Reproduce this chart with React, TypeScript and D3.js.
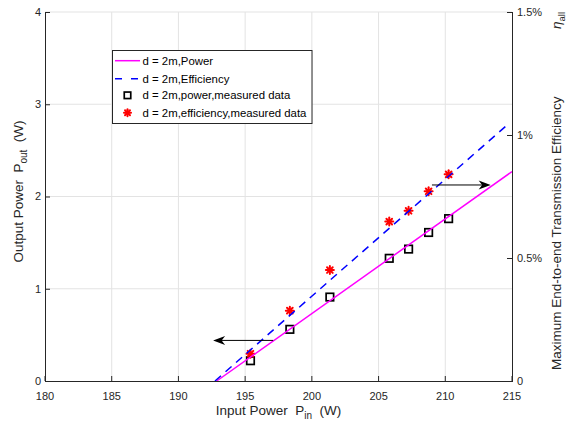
import React from "react";
import * as d3 from "d3";

// ---- data ----
const xTicks = [180, 185, 190, 195, 200, 205, 210, 215];
const yLeftTicks = [0, 1, 2, 3, 4];
const yRightTicks = [0, 0.5, 1, 1.5];
const yRightTickLabels = ["0", "0.5%", "1%", "1.5%"];

const pinMeasured = [195.4, 198.35, 201.35, 205.8, 207.25, 208.75, 210.25];
const powerMeasured = [0.22, 0.56, 0.91, 1.33, 1.43, 1.61, 1.76];
const effMeasured = [0.111, 0.286, 0.451, 0.648, 0.692, 0.771, 0.84]; // %

const powerLinePin = [192.87, 215];
const powerLineVal = [0, 2.27];
const effLinePin = [192.74, 214.73];
const effLineVal = [0, 1.045]; // %

const arrowLeft = { from: [197.1, 0.44], to: [192.6, 0.44] };
const arrowRight = { from: [209.0, 2.125], to: [213.4, 2.125] };

const legendLabels = [
  "d = 2m,Power",
  "d = 2m,Efficiency",
  "d = 2m,power,measured data",
  "d = 2m,efficiency,measured data",
];

const FONT = "'Liberation Sans', Arial, Helvetica, sans-serif";
const AX = "#262626";
const GRID = "#e3e3e3";

const W = 566;
const H = 435;
const L = 45, R = 512, T = 12, B = 381;

const x = d3.scaleLinear().domain([180, 215]).range([L, R]);
const yL = d3.scaleLinear().domain([0, 4]).range([B, T]);
const yR = d3.scaleLinear().domain([0, 1.5]).range([B, T]);

function Asterisk({ cx, cy, r = 4 }: { cx: number; cy: number; r?: number }) {
  const d = r * 0.707;
  return (
    <g stroke="#ff0000" strokeWidth={2} strokeLinecap="round">
      <line x1={cx - r} y1={cy} x2={cx + r} y2={cy} />
      <line x1={cx} y1={cy - r} x2={cx} y2={cy + r} />
      <line x1={cx - d} y1={cy - d} x2={cx + d} y2={cy + d} />
      <line x1={cx - d} y1={cy + d} x2={cx + d} y2={cy - d} />
      <circle cx={cx} cy={cy} r={r * 0.55} fill="#ff0000" stroke="none" />
    </g>
  );
}

function Square({ cx, cy, s = 7.5 }: { cx: number; cy: number; s?: number }) {
  return (
    <rect x={cx - s / 2} y={cy - s / 2} width={s} height={s} fill="none" stroke="#000" strokeWidth={1.7} />
  );
}

function Arrow({ x1, y1, x2, y2 }: { x1: number; y1: number; x2: number; y2: number }) {
  const dir = Math.sign(x2 - x1);
  const len = 12, hw = 4.5, notch = 3.5;
  const head = [
    [x2, y2],
    [x2 - dir * len, y2 - hw],
    [x2 - dir * (len - notch), y2],
    [x2 - dir * len, y2 + hw],
  ];
  return (
    <g>
      <line x1={x1} y1={y1} x2={x2 - dir * 6} y2={y2} stroke="#000" strokeWidth={1} />
      <polygon points={head.map((p) => p.join(",")).join(" ")} fill="#000" />
    </g>
  );
}

export default function App() {
  const powerLine = d3
    .line<number>()
    .x((d) => x(powerLinePin[d]))
    .y((d) => yL(powerLineVal[d]));
  const effLine = d3
    .line<number>()
    .x((d) => x(effLinePin[d]))
    .y((d) => yR(effLineVal[d]));

  const legY = [60.7, 78.8, 95.3, 112.7];

  return (
    <svg
      width={W}
      height={H}
      style={{ position: "absolute", left: 0, top: 0, background: "#fff", fontFamily: FONT }}
    >
      <rect x={0} y={0} width={W} height={H} fill="#fff" />
      {/* grid */}
      {xTicks.slice(1, -1).map((t) => (
        <line key={"gx" + t} x1={x(t)} x2={x(t)} y1={T} y2={B} stroke={GRID} strokeWidth={1} />
      ))}
      {yLeftTicks.slice(1).map((t) => (
        <line key={"gy" + t} x1={L} x2={R} y1={yL(t)} y2={yL(t)} stroke={GRID} strokeWidth={1} />
      ))}

      {/* measured data */}
      {pinMeasured.map((p, i) => (
        <Square key={"s" + i} cx={x(p)} cy={yL(powerMeasured[i])} />
      ))}
      {pinMeasured.map((p, i) => (
        <Asterisk key={"a" + i} cx={x(p)} cy={yR(effMeasured[i])} />
      ))}

      {/* lines */}
      <path d={powerLine([0, 1]) || ""} fill="none" stroke="#ff00ff" strokeWidth={1.5} />
      <path d={effLine([0, 1]) || ""} fill="none" stroke="#0000ff" strokeWidth={1.5} strokeDasharray="8 6" />

      {/* arrows */}
      <Arrow
        x1={x(arrowLeft.from[0])}
        y1={yL(arrowLeft.from[1])}
        x2={x(arrowLeft.to[0])}
        y2={yL(arrowLeft.to[1])}
      />
      <Arrow
        x1={x(arrowRight.from[0])}
        y1={yL(arrowRight.from[1])}
        x2={x(arrowRight.to[0])}
        y2={yL(arrowRight.to[1])}
      />

      {/* axes */}
      <line x1={L} x2={R} y1={B + 0.5} y2={B + 0.5} stroke={AX} strokeWidth={1} />
      <line x1={L + 0.5} x2={L + 0.5} y1={T} y2={B + 1} stroke={AX} strokeWidth={1} />
      <line x1={R + 0.5} x2={R + 0.5} y1={T} y2={B + 1} stroke={AX} strokeWidth={1} />

      {xTicks.map((t) => (
        <g key={"xt" + t}>
          <line x1={x(t)} x2={x(t)} y1={B} y2={B - 5} stroke={AX} />
          <text x={x(t)} y={400} fontSize={11} textAnchor="middle" fill={AX}>
            {t}
          </text>
        </g>
      ))}
      {yLeftTicks.map((t) => (
        <g key={"yl" + t}>
          <line x1={L} x2={L + 5} y1={yL(t) + 0.5} y2={yL(t) + 0.5} stroke={AX} />
          <text x={41} y={yL(t)} dy="0.35em" fontSize={11} textAnchor="end" fill={AX}>
            {t}
          </text>
        </g>
      ))}
      {yRightTicks.map((t, i) => (
        <g key={"yr" + t}>
          <line x1={R - 5} x2={R} y1={yR(t) + 0.5} y2={yR(t) + 0.5} stroke={AX} />
          <text x={517} y={yR(t)} dy="0.35em" fontSize={11} textAnchor="start" fill={AX}>
            {yRightTickLabels[i]}
          </text>
        </g>
      ))}

      {/* axis labels */}
      <text x={278.5} y={415} fontSize={13.5} textAnchor="middle" fill={AX} style={{ whiteSpace: "pre" }}>
        <tspan>{"Input Power  P"}</tspan>
        <tspan fontSize={10} dy={4}>in</tspan>
        <tspan dy={-4}>{"  (W)"}</tspan>
      </text>
      <text
        transform="translate(23,191.5) rotate(-90)"
        fontSize={13.5}
        textAnchor="middle"
        fill={AX}
        style={{ whiteSpace: "pre" }}
      >
        <tspan>{"Output Power  P"}</tspan>
        <tspan fontSize={10} dy={4}>out</tspan>
        <tspan dy={-4}>{"  (W)"}</tspan>
      </text>
      <text transform="translate(561,370) rotate(-90)" fontSize={13.5} textAnchor="start" fill={AX}>
        Maximum End-to-end Transmission Efficiency
      </text>
      <text transform="translate(561,29) rotate(-90)" fontSize={13.5} textAnchor="start" fill={AX}>
        <tspan fontStyle="italic">η</tspan>
        <tspan fontSize={9.5} dy={4}>all</tspan>
      </text>

      {/* legend */}
      <rect x={112.5} y={50.5} width={199.5} height={73} fill="#fff" stroke={AX} strokeWidth={1} />
      <line x1={115} x2={140} y1={legY[0]} y2={legY[0]} stroke="#ff00ff" strokeWidth={1.5} />
      <line x1={115} x2={138} y1={legY[1]} y2={legY[1]} stroke="#0000ff" strokeWidth={1.5} strokeDasharray="7 9" />
      <Square cx={127.5} cy={legY[2]} s={6.5} />
      <Asterisk cx={127.5} cy={legY[3]} r={3.5} />
      {legendLabels.map((lab, i) => (
        <text key={"lg" + i} x={142.5} y={legY[i]} dy="0.35em" fontSize={11.4} fill="#000">
          {lab}
        </text>
      ))}
    </svg>
  );
}
